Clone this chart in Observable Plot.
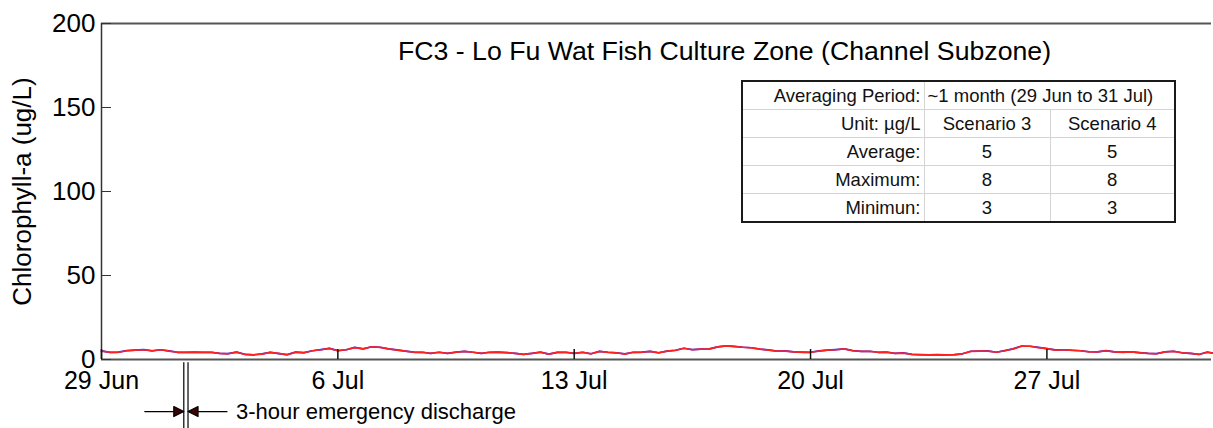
<!DOCTYPE html>
<html><head><meta charset="utf-8">
<script src="https://cdn.jsdelivr.net/npm/d3@7"></script>
<script src="https://cdn.jsdelivr.net/npm/@observablehq/plot@0.6"></script>
<style>
html,body{margin:0;padding:0;background:#fff;overflow:hidden;}
#wrap{position:relative;width:1213px;height:428px;overflow:hidden;font-family:"Liberation Sans",Arial,sans-serif;}
#wrap svg{display:block;}
#stats{position:absolute;left:741px;top:80px;width:433px;border-collapse:collapse;border:2px solid #1a1a1a;background:#fff;font-size:18.5px;color:#111;table-layout:fixed;}
#stats td{border:1px solid #d4d4d4;padding:0 4px;height:27px;line-height:20px;white-space:nowrap;text-align:center;}
#stats td.lab{text-align:right;padding-right:3px;}
#stats td.per{text-align:left;padding-left:3px;}
</style></head><body><div id="wrap"></div>
<script>
// ---- data ----
const startTime = "2020-06-29T00:00Z";   // first sample, 6-hourly series
const endView = "2020-07-31T21:00Z";     // right edge of the visible window
const stepHours = 6;
const scenario3 = [
  5.0, 4.3, 4.3, 5.2,  5.6, 5.8, 5.2, 5.8,  5.0, 4.3, 4.3, 4.3,  4.3, 4.3, 3.6, 3.4,
  4.4, 3.0, 2.8, 3.2,  4.2, 3.6, 2.8, 4.4,  4.0, 5.2, 5.8, 6.6,  5.2, 5.8, 7.1, 6.3,
  7.6, 7.2, 6.3, 5.6,  5.0, 4.3, 4.3, 3.6,  4.3, 3.6, 4.3, 4.8,  4.3, 3.6, 4.3, 4.3,
  4.1, 3.6, 3.0, 3.6,  4.3, 3.2, 4.2, 4.2,  3.6, 4.2, 3.4, 4.8,  4.2, 4.0, 3.2, 4.3,
  4.3, 4.8, 3.9, 5.0,  5.4, 6.7, 5.8, 6.2,  6.2, 7.5, 8.1, 7.7,  7.3, 6.9, 6.2, 5.6,
  5.0, 5.0, 4.5, 4.3,  4.3, 5.0, 5.6, 5.8,  6.3, 5.2, 4.8, 4.8,  4.3, 4.3, 3.6, 3.8,
  3.0, 2.8, 2.8, 2.8,  2.8, 2.8, 3.4, 4.8,  5.0, 5.0, 4.3, 5.2,  6.3, 7.9, 7.9, 7.1,
  6.5, 5.6, 5.8, 5.4,  5.2, 4.5, 4.5, 5.2,  4.5, 4.3, 4.5, 4.0,  3.6, 3.4, 4.5, 4.8,
  4.0, 3.6, 3.0, 4.3,  3.6
];
const scenario4 = [
  5.1, 4.2, 4.4, 5.3,  5.6, 5.9, 5.1, 5.8,  5.1, 4.3, 4.2, 4.4,  4.3, 4.2, 3.6, 3.5,
  4.4, 3.1, 2.8, 3.3,  4.2, 3.5, 2.9, 4.4,  4.1, 5.2, 5.9, 6.6,  5.3, 5.8, 7.2, 6.3,
  7.6, 7.3, 6.3, 5.7,  5.0, 4.4, 4.3, 3.7,  4.3, 3.6, 4.4, 4.8,  4.3, 3.7, 4.3, 4.4,
  4.1, 3.6, 3.1, 3.6,  4.4, 3.2, 4.2, 4.3,  3.6, 4.3, 3.4, 4.8,  4.3, 4.0, 3.3, 4.3,
  4.4, 4.8, 4.0, 5.0,  5.5, 6.7, 5.9, 6.2,  6.3, 7.5, 8.1, 7.8,  7.3, 7.0, 6.2, 5.7,
  5.0, 5.1, 4.5, 4.4,  4.3, 5.1, 5.6, 5.9,  6.3, 5.3, 4.8, 4.9,  4.3, 4.4, 3.6, 3.9,
  3.0, 2.9, 2.8, 2.9,  2.8, 2.9, 3.4, 4.9,  5.0, 5.1, 4.3, 5.3,  6.3, 8.0, 7.9, 7.2,
  6.5, 5.7, 5.8, 5.5,  5.2, 4.6, 4.5, 5.3,  4.5, 4.4, 4.5, 4.1,  3.6, 3.5, 4.5, 4.9,
  4.0, 3.7, 3.0, 4.4,  3.6
];
const xTickDates = ["2020-06-29", "2020-07-06", "2020-07-13", "2020-07-20", "2020-07-27"];
const yTicks = [0, 50, 100, 150, 200];
const yDomain = [0, 200];
const dischargeWindow = ["2020-07-01T10:30Z", "2020-07-01T13:30Z"];
const titleText = "FC3 - Lo Fu Wat Fish Culture Zone (Channel Subzone)";
const yLabel = "Chlorophyll-a (ug/L)";
const dischargeText = "3-hour emergency discharge";
const scenarioNames = ["Scenario 3", "Scenario 4"];
const periodLabel = "Averaging Period:";
const periodText = "~1 month (29 Jun to 31 Jul)";
const unitLabel = "Unit: µg/L";
const statLabels = ["Average:", "Maximum:", "Minimun:"];
const stats3 = [5, 8, 3];
const stats4 = [5, 8, 3];

// ---- build ----
const t0 = new Date(startTime).getTime();
const toRows = (vals) => vals.map((v, i) => ({date: new Date(t0 + i * stepHours * 3600e3), value: v}));
const rows3 = toRows(scenario3);
const rows4 = toRows(scenario4);
const d0 = new Date(dischargeWindow[0]);
const d1 = new Date(dischargeWindow[1]);

const tipShape = {
  draw(context, l) {
    const h = 10, w = 5;
    context.moveTo(0, 0);
    context.lineTo(0, -l + h);
    context.moveTo(0, -l);
    context.lineTo(-w, -l + h);
    context.lineTo(w, -l + h);
    context.closePath();
  }
};

const FONT = "Liberation Sans, Arial, sans-serif";

const chart = Plot.plot({
  width: 1213,
  height: 428,
  marginLeft: 101,
  marginRight: 2,
  marginTop: 23,
  marginBottom: 69,
  style: {fontFamily: FONT, background: "white", color: "black", overflow: "hidden"},
  x: {type: "utc", domain: [new Date(startTime), new Date(endView)]},
  y: {domain: yDomain},
  marks: [
    Plot.ruleY([yDomain[1]], {stroke: "#555", strokeWidth: 2}),
    Plot.lineY(rows4, {x: "date", y: "value", stroke: "#1f1fff", strokeWidth: 1.7}),
    Plot.lineY(rows3, {x: "date", y: "value", stroke: "#ff2020", strokeWidth: 1.7}),
    Plot.ruleY([yDomain[0]], {stroke: "#555", strokeWidth: 2}),
    Plot.ruleX([new Date(startTime)], {stroke: "#333", strokeWidth: 1.5}),
    Plot.axisY(yTicks, {tickSize: -10, tickPadding: 16, fontSize: 26, label: null, stroke: "#333"}),
    Plot.axisX(xTickDates.map(d => new Date(d)), {tickSize: -10, tickPadding: 22, fontSize: 25, label: null, stroke: "#111", strokeWidth: 1.5, tickFormat: d3.utcFormat("%-d %b")}),
    Plot.text([yLabel], {frameAnchor: "left", textAnchor: "middle", lineAnchor: "middle", rotate: -90, dx: -79, fontSize: 26, fill: "black"}),
    Plot.text([titleText], {frameAnchor: "top", textAnchor: "middle", lineAnchor: "middle", dx: 68, dy: 28, fontSize: 26.7, fill: "black"}),
    Plot.ruleX([d0, d1], {x: d => d, y1: -2, y2: -45, stroke: "black", strokeWidth: 1.2}),
    Plot.vector([{x: d0, r: 90}, {x: d1, r: -90}], {x: "x", y: -31, rotate: "r", length: 39, anchor: "end", shape: tipShape, stroke: "black", strokeWidth: 1.2, fill: "#3a0505"}),
    Plot.text([dischargeText], {x: () => d1, y: -31, dx: 48, textAnchor: "start", lineAnchor: "middle", fontSize: 22, fill: "black"})
  ]
});

const wrap = document.getElementById("wrap");
wrap.appendChild(chart);

// stats table
const table = document.createElement("table");
table.id = "stats";
const colg = document.createElement("colgroup");
[182, 126, 125].forEach(w => { const c = document.createElement("col"); c.style.width = w + "px"; colg.appendChild(c); });
table.appendChild(colg);
const addRow = (cells) => {
  const tr = document.createElement("tr");
  cells.forEach(([txt, cls, span]) => {
    const td = document.createElement("td");
    td.textContent = txt;
    if (cls) td.className = cls;
    if (span) td.colSpan = span;
    tr.appendChild(td);
  });
  table.appendChild(tr);
};
addRow([[periodLabel, "lab"], [periodText, "per", 2]]);
addRow([[unitLabel, "lab"], [scenarioNames[0]], [scenarioNames[1]]]);
statLabels.forEach((lab, i) => addRow([[lab, "lab"], [String(stats3[i])], [String(stats4[i])]]));
wrap.appendChild(table);
</script></body></html>
